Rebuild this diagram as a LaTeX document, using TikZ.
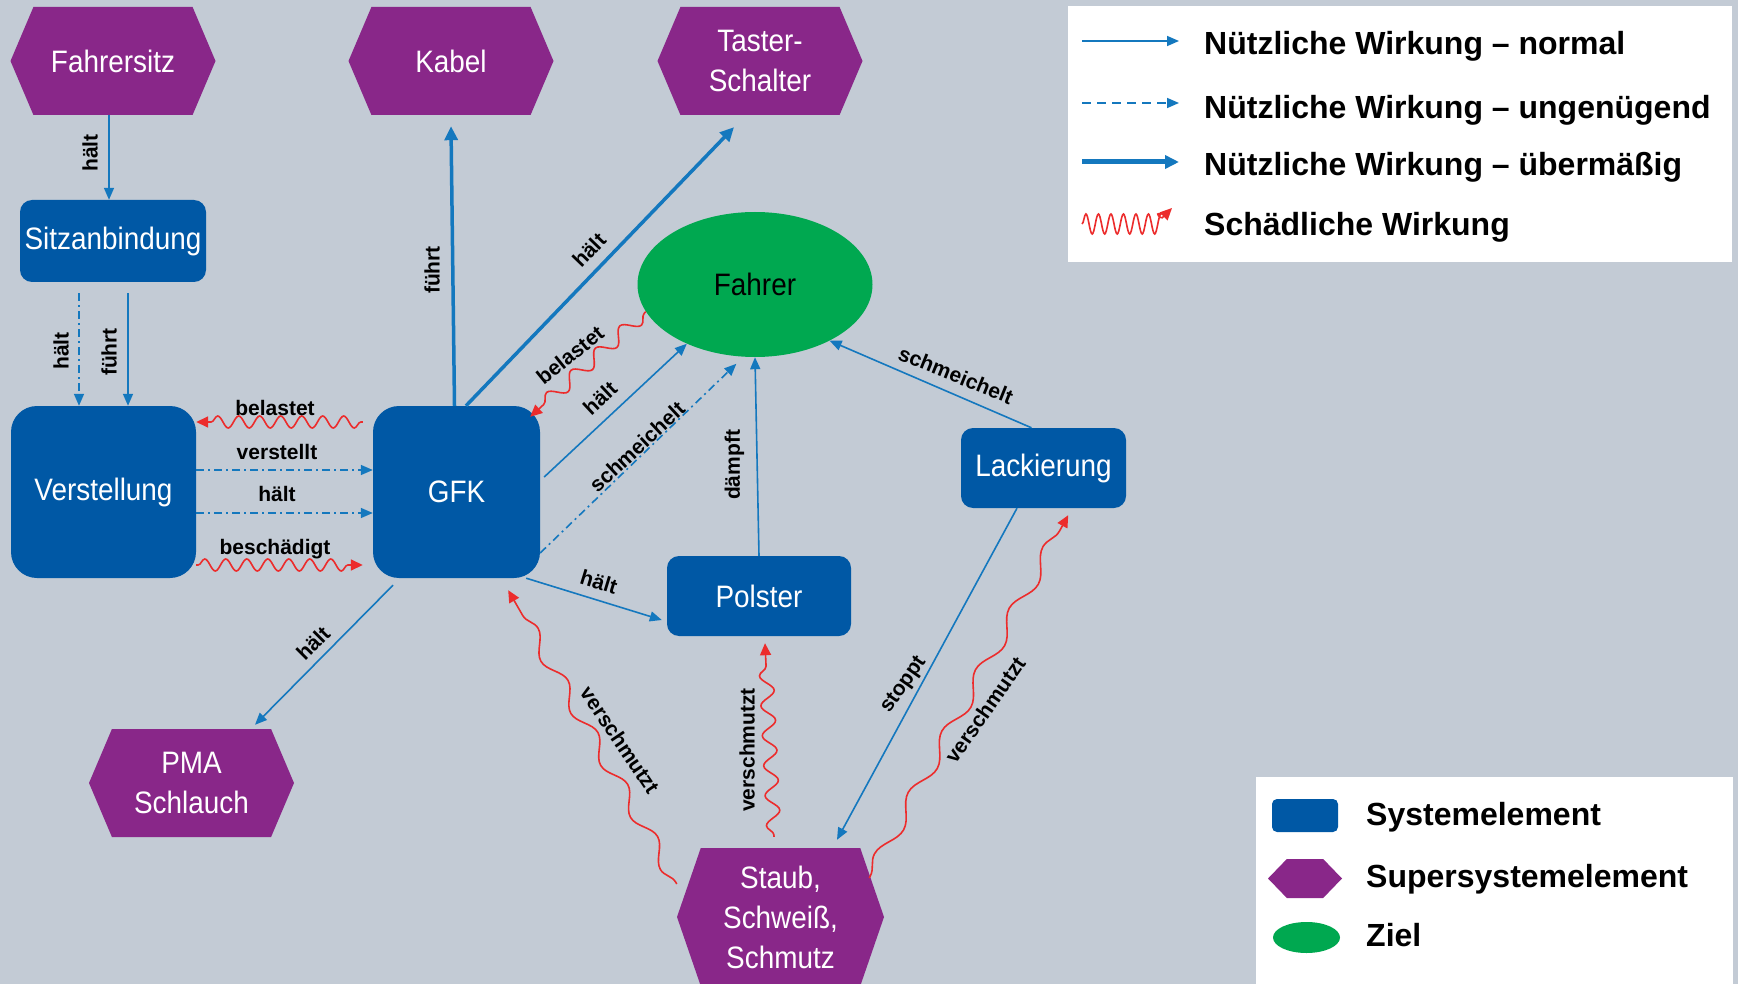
\documentclass[tikz,border=0pt]{standalone}
\usepackage{fontspec}
\setmainfont{Liberation Sans}
\newfontfamily\narrowfont[FakeStretch=0.9]{Liberation Sans}
\usetikzlibrary{arrows.meta,shapes.geometric,shapes.symbols,decorations.pathmorphing}

\definecolor{bggray}{RGB}{195,203,213}
\definecolor{sysblue}{RGB}{0,88,165}
\definecolor{superpurple}{RGB}{137,39,137}
\definecolor{zielgreen}{RGB}{0,168,80}
\definecolor{linkblue}{RGB}{20,120,190}
\definecolor{harmred}{RGB}{236,44,44}

\tikzset{
	elemtext/.style={font=\narrowfont\fontsize{31}{40}\selectfont, align=center, inner sep=0pt},
	sysbox/.style={elemtext, rectangle, rounded corners=12pt, fill=sysblue, text=white},
	superhex/.style={elemtext, signal, signal to=east and west, signal pointer angle=134,
		fill=superpurple, text=white, minimum width=205pt, minimum height=108pt},
	zielnode/.style={elemtext, ellipse, fill=zielgreen, text=black, minimum width=235pt, minimum height=145pt},
	wlabel/.style={font=\bfseries\fontsize{21}{24}\selectfont, inner sep=1pt},
	legtext/.style={font=\bfseries\fontsize{32}{36}\selectfont, anchor=west, inner sep=0pt},
	useful/.style={draw=linkblue, line width=1.6pt, -{Triangle[length=12pt,width=10pt]}},
	weak/.style={useful, dash pattern=on 8pt off 4pt on 2pt off 4pt},
	strong/.style={useful, line width=3.5pt, -{Triangle[length=14pt,width=13pt]}},
	harm/.style={draw=harmred, line width=1.6pt, -{Triangle[length=12pt,width=11pt]}, decorate,
		decoration={snake, amplitude=6pt, segment length=21pt, pre length=2pt, post length=12pt}},
}

\begin{document}
\begin{tikzpicture}[x=1pt, y=-1pt]
	
	\path[use as bounding box, fill=bggray] (0,0) rectangle (1738,984);
	
	% elements
	\node[superhex] (fsitz)  at (113,61)  {Fahrersitz};
	\node[superhex] (kabel)  at (451,61)  {Kabel};
	\node[superhex] (taster) at (760,61)  {Taster-\\Schalter};
	\node[sysbox, minimum width=186pt, minimum height=82pt] (sitz) at (113,241) {Sitzanbindung};
	\node[sysbox, rounded corners=26pt, minimum width=185pt, minimum height=172pt] (verst) at (103.5,492) {Verstellung};
	\node[sysbox, rounded corners=26pt, minimum width=167pt, minimum height=172pt] (gfk) at (456.5,492) {GFK};
	\node[zielnode] (fahrer) at (755,284.5) {Fahrer};
	\node[sysbox, minimum width=165pt, minimum height=80pt] (lack) at (1043.5,468) {Lackierung};
	\node[sysbox, minimum width=184pt, minimum height=80pt] (polster) at (759,596) {Polster};
	\node[superhex] (pma) at (191.5,783) {PMA\\Schlauch};
	\node[superhex, signal pointer angle=142, minimum width=207pt, minimum height=138pt] (staub) at (780.5,917) {Staub,\\Schweiß,\\Schmutz};
	
	% useful and harmful actions
	\draw[useful] ([xshift=-4pt]fsitz.south) -- ([xshift=-4pt]sitz.north);
	\draw[weak] ([xshift=-34pt,yshift=-11pt]sitz.south) -- ([xshift=-24.5pt]verst.north);
	\draw[useful] ([xshift=15pt,yshift=-11pt]sitz.south) -- ([xshift=24.5pt]verst.north);
	\draw[harm] ([xshift=-10pt,yshift=70pt]gfk.west) -- ([yshift=70pt]verst.east);
	\draw[weak] ([yshift=22pt]verst.east) -- ([yshift=22pt]gfk.west);
	\draw[weak] ([yshift=-21pt]verst.east) -- ([yshift=-21pt]gfk.west);
	\draw[harm] ([yshift=-73pt]verst.east) -- ([xshift=-10pt,yshift=-73pt]gfk.west);
	\draw[strong] ([xshift=-2pt]gfk.north) -- ([yshift=-11pt]kabel.south);
	\draw[strong] ([xshift=9.5pt]gfk.north) -- ([xshift=-26pt,yshift=-12pt]taster.south);
	\draw[harm, decoration={amplitude=7pt, segment length=33pt}] (fahrer.194) -- ([xshift=-10pt,yshift=-11pt]gfk.north east);
	\draw[useful] ([xshift=4pt,yshift=15pt]gfk.east) -- (fahrer.221);
	\draw[weak, shorten >=10pt] ([yshift=-61pt]gfk.east) -- (fahrer.261);
	\draw[useful] (polster.north) -- (fahrer.south);
	\draw[useful] ([xshift=-12pt]lack.north) -- (fahrer.323);
	\draw[useful] ([xshift=-14pt]gfk.south east) -- ([xshift=-5pt,yshift=-24pt]polster.west);
	\draw[useful] ([xshift=-63.5pt,yshift=-7pt]gfk.south) -- ([xshift=63.5pt,yshift=4pt]pma.north);
	\draw[useful] ([xshift=-26.5pt]lack.south) -- ([xshift=56.5pt,yshift=8pt]staub.north);
	\draw[harm, decoration={amplitude=7pt, segment length=60pt}] ([yshift=33pt]staub.west) -- ([xshift=-32pt,yshift=-12pt]gfk.south east);
	\draw[harm, decoration={amplitude=7pt, segment length=30pt}] ([xshift=-6.5pt,yshift=11pt]staub.north) -- ([xshift=6pt,yshift=-7pt]polster.south);
	\draw[harm, decoration={amplitude=7pt, segment length=70pt}] ([xshift=-15pt,yshift=39pt]staub.east) -- ([xshift=-58pt,yshift=-7pt]lack.south east);
	
	% labels
	\node[wlabel, rotate=90] (l-fsitz) at (90,153) {hält};
	\node[wlabel, rotate=90] (l-sitz1) at (61,351) {hält};
	\node[wlabel, rotate=90] (l-sitz2) at (109,352) {führt};
	\node[wlabel] (l-verst1) at (275,408) {belastet};
	\node[wlabel] (l-verst2) at (277,452) {verstellt};
	\node[wlabel] (l-verst3) at (277,494) {hält};
	\node[wlabel] (l-verst4) at (275,549) {beschädigt};
	\node[wlabel, rotate=90] (l-kabel) at (432,270) {führt};
	\node[wlabel, rotate=46] (l-taster) at (589,250) {hält};
	\node[wlabel, rotate=39] (l-fahrer1) at (570,355) {belastet};
	\node[wlabel, rotate=43] (l-fahrer2) at (600,398) {hält};
	\node[wlabel, rotate=43] (l-fahrer3) at (637,447) {schmeichelt};
	\node[wlabel, rotate=90] (l-fahrer4) at (734.5,465) {dämpft};
	\node[wlabel, rotate=-22] (l-fahrer5) at (956,375) {schmeichelt};
	\node[wlabel, rotate=-17] (l-polster) at (599,582) {hält};
	\node[wlabel, rotate=45] (l-pma) at (313,643) {hält};
	\node[wlabel, rotate=-56] (l-staub1) at (620,740) {verschmutzt};
	\node[wlabel, rotate=90] (l-staub2) at (747,750) {verschmutzt};
	\node[wlabel, rotate=55] (l-staub3) at (904,685) {stoppt};
	\node[wlabel, rotate=55] (l-staub4) at (985,710) {verschmutzt};
	
	% legend of actions
	\node[fill=white, inner sep=0pt, minimum width=664pt, minimum height=256pt, anchor=north west] (leg1) at (1068,6) {};
	\node[legtext] (lg-normal) at (1204,46)  {Nützliche Wirkung – normal};
	\node[legtext] (lg-weak)   at (1204,110) {Nützliche Wirkung – ungenügend};
	\node[legtext] (lg-strong) at (1204,167) {Nützliche Wirkung – übermäßig};
	\node[legtext] (lg-harm)   at (1204,227) {Schädliche Wirkung};
	\draw[useful] ([xshift=-122pt,yshift=5pt]lg-normal.west) -- ([xshift=-25pt,yshift=5pt]lg-normal.west);
	\draw[useful, dash pattern=on 9pt off 6pt] ([xshift=-122pt,yshift=7pt]lg-weak.west) -- ([xshift=-25pt,yshift=7pt]lg-weak.west);
	\draw[strong, line width=5pt] ([xshift=-122pt,yshift=5pt]lg-strong.west) -- ([xshift=-25pt,yshift=5pt]lg-strong.west);
	\draw[harm, decoration={amplitude=10pt, segment length=12.5pt, pre length=0pt, post length=10pt}]
		([xshift=-122pt,yshift=3pt]lg-harm.west) -- ([xshift=-48pt,yshift=3pt]lg-harm.west) -- ([xshift=-32pt,yshift=19pt]lg-harm.west);
	
	% legend of elements
	\node[fill=white, inner sep=0pt, minimum width=477pt, minimum height=220pt, anchor=north west] (leg2) at (1256,777) {};
	\node[sysbox, rounded corners=5pt, minimum width=66pt, minimum height=33pt] (lg-sys) at (1305,815.5) {};
	\node[superhex, signal pointer angle=92, minimum width=74pt, minimum height=39pt] (lg-super) at (1305,878.5) {};
	\node[zielnode, minimum width=67pt, minimum height=31pt] (lg-ziel) at (1306.5,937.5) {};
	\node[legtext] (lt-sys)   at (1366,817) {Systemelement};
	\node[legtext] (lt-super) at (1366,879) {Supersystemelement};
	\node[legtext] (lt-ziel)  at (1366,935) {Ziel};
	
\end{tikzpicture}
\end{document}
